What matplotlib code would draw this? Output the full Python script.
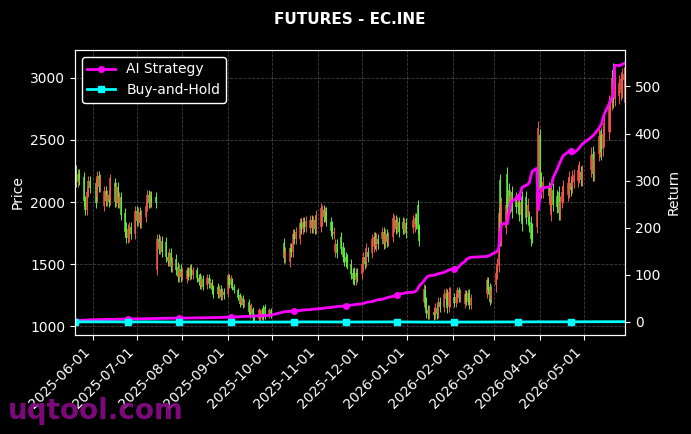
import numpy as np
import pandas as pd
import matplotlib
matplotlib.use("Agg")
import matplotlib.pyplot as plt
import matplotlib.dates as mdates

# jours fériés de la bourse (pas de séance)
holidays = ["2025-06-02", "2025-10-01", "2025-10-02", "2025-10-03", "2025-10-06",
            "2025-10-07", "2025-10-08", "2026-01-01", "2026-01-02", "2026-02-16",
            "2026-02-17", "2026-02-18", "2026-02-19", "2026-02-20", "2026-02-23",
            "2026-04-06", "2026-05-01", "2026-05-04", "2026-05-05"]

months = ["2025-05", "2025-06", "2025-07", "2025-08", "2025-09", "2025-10",
          "2025-11", "2025-12", "2026-01", "2026-02", "2026-03", "2026-04", "2026-05"]

# (open, close) par séance
oc_may25 = [(2320, 2100), (2260, 2160), (2160, 2230), (2230, 2180), (2200, 2010), (2010, 1940),
            (1940, 2080), (2080, 2170), (2170, 2110)]
oc_jun25 = [(2150, 1990), (2040, 2210), (2210, 2120), (2120, 2190), (1970, 2090), (2090, 2010),
            (2010, 2060), (2060, 2000), (2020, 2190), (2150, 2000), (2000, 2120), (2120, 1990),
            (1990, 2040), (2040, 1900), (1910, 1760), (1800, 1710), (1710, 1780), (1720, 1800),
            (1800, 1740), (1740, 1930)]
oc_jul25 = [(1930, 1850), (1850, 1920), (1920, 1830), (1830, 1900), (1880, 1970), (1970, 2060),
            (2060, 1990), (1990, 2050), (2050, 2000), (2040, 1990), (1450, 1700), (1700, 1620),
            (1620, 1690), (1690, 1600), (1680, 1560), (1560, 1530), (1530, 1590), (1590, 1480),
            (1480, 1520), (1540, 1450), (1480, 1400), (1400, 1460), (1460, 1400)]
oc_aug25 = [(1400, 1440), (1380, 1450), (1450, 1400), (1400, 1470), (1470, 1410), (1410, 1450),
            (1450, 1390), (1390, 1360), (1400, 1330), (1330, 1380), (1380, 1320), (1330, 1390),
            (1390, 1340), (1340, 1360), (1350, 1290), (1300, 1260), (1320, 1260), (1260, 1300),
            (1300, 1240), (1240, 1280), (1280, 1250)]
oc_sep25 = [(1260, 1410), (1400, 1330), (1330, 1390), (1370, 1310), (1320, 1290), (1290, 1230),
            (1250, 1180), (1190, 1230), (1230, 1170), (1180, 1200), (1200, 1120), (1150, 1090),
            (1120, 1170), (1140, 1065), (1080, 1055), (1060, 1130), (1065, 1120), (1070, 1130),
            (1150, 1070), (1160, 1080), (1090, 1130), (1130, 1090)]
oc_oct25 = [(1670, 1550), (1550, 1600), (1520, 1630), (1630, 1600), (1600, 1740), (1740, 1700),
            (1700, 1760), (1700, 1830), (1830, 1780), (1780, 1840), (1840, 1800), (1800, 1850),
            (1790, 1860), (1860, 1790), (1790, 1850), (1860, 1780), (1780, 1900)]
oc_nov25 = [(1800, 1950), (1850, 1940), (1940, 1880), (1880, 1920), (1920, 1850), (1840, 1770),
            (1810, 1740), (1740, 1760), (1600, 1660), (1660, 1590), (1720, 1620), (1640, 1560),
            (1600, 1530), (1560, 1520), (1540, 1500), (1500, 1420), (1430, 1380), (1440, 1370),
            (1370, 1430), (1430, 1400)]
oc_dec25 = [(1420, 1500), (1480, 1560), (1560, 1500), (1520, 1630), (1600, 1560), (1590, 1700),
            (1640, 1720), (1720, 1660), (1650, 1710), (1700, 1660), (1700, 1760), (1760, 1660),
            (1670, 1740), (1740, 1680), (1690, 1720), (1720, 1870), (1800, 1860), (1860, 1780),
            (1790, 1840), (1840, 1760), (1840, 1780), (1780, 1830), (1830, 1750)]
oc_jan26 = [(1790, 1860), (1800, 1870), (1870, 1820), (1975, 1780), (1780, 1690), (1200, 1300),
            (1290, 1190), (1200, 1110), (1130, 1100), (1100, 1130), (1120, 1090), (1100, 1150),
            (1150, 1100), (1110, 1200), (1200, 1160), (1160, 1260), (1220, 1270), (1260, 1150),
            (1160, 1280), (1200, 1280)]
oc_feb26 = [(1240, 1190), (1190, 1240), (1220, 1290), (1290, 1230), (1230, 1270), (1180, 1260),
            (1260, 1200), (1200, 1270), (1270, 1170), (1170, 1230), (1260, 1370), (1370, 1290),
            (1320, 1200), (1220, 1300)]
oc_mar26 = [(1330, 1430), (1430, 1500), (1490, 1910), (2180, 1700), (1700, 1990), (1790, 1980),
            (2230, 1950), (2100, 1960), (1960, 2050), (2080, 1920), (2030, 1960), (1960, 2000),
            (2000, 1900), (1900, 2000), (2040, 1820), (2040, 1870), (1880, 1980), (1880, 1810),
            (1840, 1700), (1780, 1720), (1800, 2080), (2100, 2600)]
oc_apr26 = [(2540, 2100), (2190, 2080), (2080, 2160), (2110, 2050), (1980, 2100), (1900, 2110),
            (2100, 1980), (2050, 1960), (2080, 1910), (1910, 2000), (2000, 2080), (2040, 2130),
            (2060, 2150), (2080, 2200), (2150, 2100), (2120, 2210), (2160, 2220), (2170, 2260),
            (2200, 2280), (2240, 2180), (2180, 2250)]
oc_may26 = [(2260, 2380), (2390, 2230), (2230, 2350), (2390, 2530), (2420, 2520), (2540, 2400),
            (2430, 2550), (2500, 2640), (2560, 2800), (2620, 2780), (2800, 3000), (3060, 2820),
            (2830, 3000), (2850, 2960), (2880, 2990), (2900, 3020), (2980, 3030), (2800, 2940)]

# longueur typique des mèches au-delà du corps, par mois
wick_by_month = [40, 40, 40, 30, 20, 40, 40, 40, 40, 30, 50, 50, 60]

# rendement cumulé de la stratégie IA (%)
r_may25 = [2, 2.5, 3, 3, 3.5, 3.5, 4, 4, 4.5]
r_jun25 = [4.5, 4.6, 4.7, 4.8, 5, 5, 5.1, 5.2, 5.3, 5.4, 5.5, 5.5, 5.6, 5.7, 5.8, 5.9, 6, 6, 6.1, 6.2]
r_jul25 = [6.3, 6.4, 6.5, 6.5, 6.6, 6.7, 6.8, 6.9, 7, 7, 7.1, 7.2, 7.3, 7.4, 7.4, 7.5, 7.6, 7.7,
           7.8, 7.8, 7.9, 8, 8]
r_aug25 = [8.1, 8.2, 8.2, 8.3, 8.4, 8.4, 8.5, 8.6, 8.6, 8.7, 8.8, 8.8, 8.9, 9, 9, 9.1, 9.2, 9.3,
           9.3, 9.4, 9.5]
r_sep25 = [9.7, 9.9, 10, 10.2, 10.4, 10.6, 10.8, 11, 11.2, 11.4, 11.6, 11.8, 12, 12.2, 12.4, 12.6,
           12.8, 13, 13.2, 13.4, 13.7, 14]
r_oct25 = [21, 22, 22, 22.5, 23, 23, 23.5, 24, 24.5, 25, 25, 25.5, 26, 26.5, 27, 27, 27.5]
r_nov25 = [28, 28.5, 29, 29.5, 30, 30.5, 31, 31.5, 32, 32.5, 33, 33.5, 34, 34.5, 35, 35.5, 36,
           36.5, 37, 37.5]
r_dec25 = [38, 39, 40, 41, 42, 43, 44, 45, 46, 47, 48, 49, 50, 51, 52, 54, 55, 56, 57, 59, 60, 61, 62]
r_jan26 = [63, 64, 66, 70, 76, 86, 90, 94, 97, 98, 99, 100, 101, 102, 103, 105, 107, 108, 110, 111]
r_feb26 = [112, 113, 114, 117, 121, 128, 132, 134, 136, 137, 139, 140, 141, 143]
r_mar26 = [148, 150, 155, 180, 208, 209, 208, 230, 250, 256, 262, 266, 268, 275, 286, 290, 292,
           296, 310, 320, 326, 238]
r_apr26 = [262, 282, 285, 286, 287, 290, 305, 325, 333, 340, 347, 353, 360, 362, 362, 360, 358,
           366, 370, 374, 378]
r_may26 = [392, 395, 398, 410, 415, 420, 432, 442, 462, 470, 476, 480, 545, 544, 545, 547, 548, 550]

oc_all = [oc_may25, oc_jun25, oc_jul25, oc_aug25, oc_sep25, oc_oct25, oc_nov25,
          oc_dec25, oc_jan26, oc_feb26, oc_mar26, oc_apr26, oc_may26]
r_all = [r_may25, r_jun25, r_jul25, r_aug25, r_sep25, r_oct25, r_nov25,
         r_dec25, r_jan26, r_feb26, r_mar26, r_apr26, r_may26]

# calendrier des séances
jours = pd.bdate_range("2025-05-20", "2026-05-29")
jours = jours[~jours.isin(pd.to_datetime(holidays))]

dates, opens, closes, wicks, ai = [], [], [], [], []
for m, oc, rr, w in zip(months, oc_all, r_all, wick_by_month):
    jm = jours[jours.strftime("%Y-%m") == m]
    for d, (o, c), r in zip(jm, oc, rr):
        dates.append(d)
        opens.append(o)
        closes.append(c)
        wicks.append(w)
        ai.append(r)

dates = pd.DatetimeIndex(dates)
opens = np.array(opens, dtype=float)
closes = np.array(closes, dtype=float)
wicks = np.array(wicks, dtype=float)
ai = np.array(ai, dtype=float)
buy_hold = closes / closes[0] - 1  # rendement buy-and-hold (ratio)

rouge = "#f25546"
vert = "#5ced3c"

fig = plt.figure(figsize=(6.91, 4.34), dpi=100, facecolor="black")
ax = fig.add_axes([0.1085, 0.228, 0.796, 0.657])
ax.set_facecolor("black")

bas = np.minimum(opens, closes)
haut = np.maximum(opens, closes)
couleurs = np.where(closes >= opens, rouge, vert)
ax.vlines(dates, bas - wicks, haut + wicks, colors=couleurs, linewidth=0.7)
ax.vlines(dates, bas, haut, colors=couleurs, linewidth=1.1)
ax.set_xlim(dates[0], dates[-1])
ax.set_ylabel("Price", color="white", fontsize=10)
ax.grid(True, color="gray", linestyle="--", linewidth=0.6, alpha=0.5)
ax.xaxis.set_major_locator(mdates.MonthLocator())
ax.xaxis.set_major_formatter(mdates.DateFormatter("%Y-%m-%d"))
plt.setp(ax.get_xticklabels(), rotation=45, ha="right")
ax.set_title("FUTURES - EC.INE", color="white", fontsize=11, fontweight="bold", pad=19)

ax2 = ax.twinx()
ax2.plot(dates, ai, color="#ff00ff", linewidth=2, marker="o", markersize=4,
         markevery=25, label="AI Strategy")
ax2.plot(dates, buy_hold, color="#00ffff", linewidth=2, marker="s", markersize=4,
         markevery=25, label="Buy-and-Hold")
ax2.set_ylabel("Return", color="white", fontsize=10)

for a in (ax, ax2):
    a.tick_params(colors="white", labelsize=10)
    for s in a.spines.values():
        s.set_color("white")

leg = ax2.legend(loc="upper left", facecolor="black", edgecolor="white",
                 labelcolor="white", fontsize=10, framealpha=1)

fig.text(0.012, 0.035, "uqtool.com", color="#8a0a8a", fontsize=20,
         fontweight="bold", alpha=0.9)

fig.savefig("out.png", dpi=100, facecolor="black")
